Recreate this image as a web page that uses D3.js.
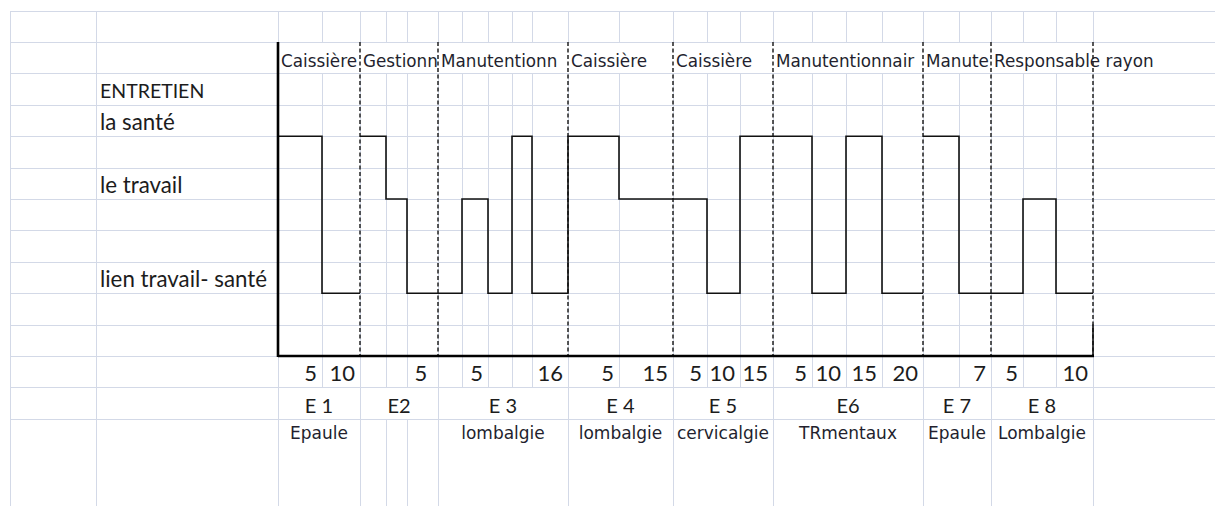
<!DOCTYPE html>
<html>
<head>
<meta charset="utf-8">
<style>
body { margin: 0; background: #fff; }
svg text { white-space: pre; }
</style>
</head>
<body>
<svg width="1215" height="506"></svg>
<script src="https://cdn.jsdelivr.net/npm/d3@7"></script>
<script>
// one interview per block, one spreadsheet column per step
var interviews = ["E 1", "E2", "E 3", "E 4", "E 5", "E6", "E 7", "E 8"];
// job titles as they show in their (cut) cells
var jobs = ["Caissière", "Gestionn", "Manutentionn", "Caissière", "Caissière", "Manutentionnair", "Manute", "Responsable rayon"];
var diagnoses = ["Epaule", "", "lombalgie", "lombalgie", "cervicalgie", "TRmentaux", "Epaule", "Lombalgie"];

// topic of each step: 7 = la santé, 5 = le travail, 2 = lien travail- santé
var steps = [
    [7, 2],
    [7, 5, 2],
    [2, 5, 2, 7, 2],
    [7, 5],
    [5, 2, 7],
    [7, 2, 7, 2],
    [7, 2],
    [2, 5, 2]
];

// minutes written under the steps
var minutes = [
    ["5", "10"],
    ["", "", "5 "],
    ["", "5", "", "", "16"],
    ["5", "15"],
    ["5", "10", "15"],
    ["5", "10", "15", "20"],
    ["", "7"],
    ["5", "", "10"]
];

// line carries on from the previous interview or not
var joined = [false, false, true, true, true, true, false, true];

var title = "ENTRETIEN", titleValue = 8;
var levelNames = ["la santé", "le travail", "lien travail- santé"];
var levelValues = [7, 5, 2];

// sheet column edges (first two columns are the label area)
var colEdges = [10, 96, 278, 322, 360, 386, 407, 438, 462, 488, 512, 532, 568, 619, 673,
    707, 740, 773, 812, 846, 882, 923, 959, 991, 1023, 1056, 1093];

var svg = d3.select("svg"),
    width = +svg.attr("width"),
    height = +svg.attr("height");

var x = d3.scaleLinear().domain(d3.range(-2, colEdges.length - 2)).range(colEdges);
var y = d3.scaleLinear().domain([0, 10]).range([356, 42]);

var calibri = "Lato, 'Open Sans', sans-serif",
    tahoma = "'DejaVu Sans', Verdana, sans-serif";

// start column of each interview
var starts = [], c = 0;
steps.forEach(s => { starts.push(c); c += s.length; });
var total = c;
var ends = starts.map((s, i) => s + steps[i].length);

var bounds = new Set(starts.concat([total]));
function ownerOf(e) {
    // interview that has column edge e inside it (not on its border)
    for (var i = 0; i < starts.length; i++) if (e > starts[i] && e < ends[i]) return i;
    return -1;
}

// ---- grid ----
var grid = svg.append("g").attr("stroke", "#d3d9e7").attr("stroke-width", 1).attr("shape-rendering", "crispEdges");

d3.range(11, -3, -1).forEach(v => {
    var yy = Math.round(y(v)) + 0.5;
    grid.append("line").attr("x1", x(-2)).attr("x2", width).attr("y1", yy).attr("y2", yy);
});

d3.range(-2, total + 1).forEach(e => {
    var xx = Math.round(x(e)) + 0.5;
    var segs = [[y(11), y(10)]];
    if (e < 0) segs.push([y(10), y(9)]);
    segs.push([y(9), y(-1)]);
    var own = ownerOf(e);
    if (e <= 0 || bounds.has(e)) segs.push([y(-1), height]);
    else if (own >= 0 && diagnoses[own] == "") segs.push([y(-2), height]);
    segs.forEach(s => {
        grid.append("line").attr("x1", xx).attr("x2", xx).attr("y1", s[0]).attr("y2", s[1]);
    });
});

// ---- texts ----
var txt = svg.append("g").attr("fill", "#1c1c1c");

txt.append("text")
    .attr("x", x(-1) + 4)
    .attr("y", y(titleValue) - 6.5)
    .attr("font-family", calibri).attr("font-size", 19.5)
    .text(title);

txt.selectAll(".lvl").data(levelNames).enter().append("text")
    .attr("class", "lvl")
    .attr("x", x(-1) + 4)
    .attr("y", (d, i) => y(levelValues[i]) - 6.5)
    .attr("font-family", calibri).attr("font-size", 22.3)
    .text(d => d);

var defs = svg.append("defs");
jobs.forEach((j, i) => {
    var x0 = x(starts[i]), x1 = i < jobs.length - 1 ? x(starts[i + 1]) : width;
    defs.append("clipPath").attr("id", "job" + i).append("rect")
        .attr("x", x0).attr("y", y(10)).attr("width", x1 - x0).attr("height", y(9) - y(10));
});
txt.selectAll(".job").data(jobs).enter().append("text")
    .attr("class", "job")
    .attr("clip-path", (d, i) => "url(#job" + i + ")")
    .attr("x", (d, i) => x(starts[i]) + 3)
    .attr("y", y(9) - 6.5)
    .attr("font-family", tahoma).attr("font-size", 16.8)
    .attr("fill", "#231f2e")
    .text(d => d);

var mins = [];
minutes.forEach((m, i) => m.forEach((t, k) => { if (t != "") mins.push({ col: starts[i] + k, t: t }); }));
txt.selectAll(".min").data(mins).enter().append("text")
    .attr("class", "min")
    .attr("x", d => x(d.col + 1) - 5)
    .attr("y", y(-1) - 6)
    .attr("text-anchor", "end")
    .attr("font-family", calibri).attr("font-size", 22)
    .text(d => d.t);

txt.selectAll(".itw").data(interviews).enter().append("text")
    .attr("class", "itw")
    .attr("x", (d, i) => (x(starts[i]) + x(ends[i])) / 2)
    .attr("y", y(-2) - 6)
    .attr("text-anchor", "middle")
    .attr("font-family", calibri).attr("font-size", 20)
    .text(d => d);

txt.selectAll(".diag").data(diagnoses).enter().append("text")
    .attr("class", "diag")
    .attr("x", (d, i) => (x(starts[i]) + x(ends[i])) / 2)
    .attr("y", y(-2) + 20)
    .attr("text-anchor", "middle")
    .attr("font-family", tahoma).attr("font-size", 17)
    .attr("fill", "#231f2e")
    .text(d => d);

// ---- chart ----
var chart = svg.append("g");

// interview separators
chart.selectAll(".sep").data(starts.slice(1).concat([total])).enter().append("line")
    .attr("class", "sep")
    .attr("x1", d => x(d)).attr("x2", d => x(d))
    .attr("y1", y(10)).attr("y2", y(0))
    .attr("stroke", "#222").attr("stroke-width", 1.5)
    .attr("stroke-dasharray", "4,2.5");

// step line, split where interviews are not joined
var runs = [], run = null;
steps.forEach((s, i) => {
    if (!joined[i] || !run) { run = []; runs.push(run); }
    s.forEach((v, k) => run.push([starts[i] + k, v]));
    if (i == steps.length - 1 || !joined[i + 1]) run.push([ends[i], s[s.length - 1]]);
});

var line = d3.line().x(d => x(d[0])).y(d => y(d[1])).curve(d3.curveStepAfter);
chart.selectAll(".run").data(runs).enter().append("path")
    .attr("class", "run")
    .attr("d", line)
    .attr("fill", "none")
    .attr("stroke", "#111").attr("stroke-width", 1.6);

chart.append("line")
    .attr("x1", x(total)).attr("x2", x(total))
    .attr("y1", y(1)).attr("y2", y(0))
    .attr("stroke", "#111").attr("stroke-width", 1.6);

// axes
chart.append("line")
    .attr("x1", x(0)).attr("x2", x(0)).attr("y1", y(10)).attr("y2", y(0) + 1)
    .attr("stroke", "#000").attr("stroke-width", 2.6);
chart.append("line")
    .attr("x1", x(0)).attr("x2", x(total) + 1).attr("y1", y(0)).attr("y2", y(0))
    .attr("stroke", "#000").attr("stroke-width", 2.6);
</script>
</body>
</html>
